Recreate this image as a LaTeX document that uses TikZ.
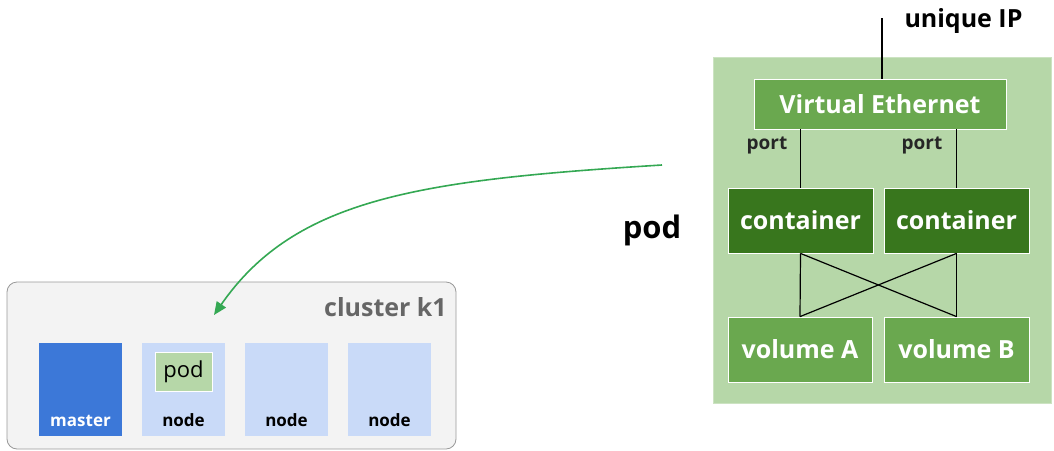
\documentclass[tikz,border=0pt]{standalone}
\usepackage{fontspec}
\setmainfont{Open Sans}
\usetikzlibrary{arrows, arrows.meta, calc, positioning}
\definecolor{podbg}{HTML}{B6D7A8}
\definecolor{midgreen}{HTML}{6AA84F}
\definecolor{darkgreen}{HTML}{38761D}
\definecolor{masterblue}{HTML}{3C78D8}
\definecolor{nodeblue}{HTML}{C9DAF8}
\definecolor{clusterbg}{HTML}{F3F3F3}
\definecolor{clusterline}{HTML}{999999}
\definecolor{clustertext}{HTML}{666666}
\definecolor{arrowgreen}{HTML}{34A853}
\newcommand{\drawl}{\draw[line width=1.2pt]}
\newcommand{\bigf}[1]{\fontsize{25}{25}\selectfont\bfseries #1}
\newcommand{\bbigf}[1]{\fontsize{31}{31}\selectfont\bfseries #1}
\newcommand{\midf}[1]{\fontsize{19}{19}\selectfont\bfseries #1}
\newcommand{\smallf}[1]{\fontsize{17}{17}\selectfont\bfseries #1}

\begin{document}
\begin{tikzpicture}[x=1pt, y=-1pt, >={Triangle[length=13pt, width=11pt]},
  gbox/.style={rectangle, draw=white, line width=0.8pt, inner sep=0pt, text=white},
  nbox/.style={rectangle, inner sep=0pt, minimum width=83, minimum height=93}]
\useasboundingbox (0,0) rectangle (1054,450);

%Cluster k1
\node[rectangle, rounded corners=10pt, draw=clusterline, fill=clusterbg, line width=0.8pt,
  minimum width=449, minimum height=167] (k1) at (231.5,365.5) {};
\node[anchor=east, text=clustertext, inner sep=0pt] (k1name) at (447,307) {\bigf{cluster k1}};
\node[nbox, fill=masterblue] (master) at (80.5,389.5) {};	%master
\node[nbox, fill=nodeblue] (n1) at (183.5,389.5) {};
\node[nbox, fill=nodeblue] (n2) at (286.5,389.5) {};
\node[nbox, fill=nodeblue] (n3) at (389.5,389.5) {};
\node[above=6pt, text=white] (masterl) at (master.south) {\smallf{master}};
\node[above=6pt] (n1l) at (n1.south) {\smallf{node}};
\node[above=6pt] (n2l) at (n2.south) {\smallf{node}};
\node[above=6pt] (n3l) at (n3.south) {\smallf{node}};
\node[gbox, fill=podbg, text=black, minimum width=57, minimum height=39] (minipod) at (183.5,371.5)
  {\fontsize{22}{22}\selectfont pod};	%pod in node

%Pod
\node[rectangle, fill=podbg, draw=podbg!70!white, line width=0.8pt,
  minimum width=338, minimum height=346] (pod) at (882,230.5) {};
\node (podl) at (652,230) {\bbigf{pod}};
\node[gbox, fill=midgreen, minimum width=252, minimum height=50] (ve) at (880,104) {\bigf{Virtual Ethernet}};
\node[gbox, fill=darkgreen, minimum width=145, minimum height=65] (c1) at (800.5,220.5) {\bigf{container}};
\node[gbox, fill=darkgreen, minimum width=145, minimum height=65] (c2) at (956.5,220.5) {\bigf{container}};
\node[gbox, fill=midgreen, minimum width=144, minimum height=65] (va) at (800,349.5) {\bigf{volume A}};
\node[gbox, fill=midgreen, minimum width=145, minimum height=65] (vb) at (956.5,349.5) {\bigf{volume B}};

%Unique IP
\coordinate (iptop) at (882,18);
\node (ipl) at (963.5,21) {\bigf{unique IP}};
\drawl (iptop) -- (iptop |- ve.north);

%Ports
\drawl (c1.north) -- (c1.north |- ve.south);
\drawl (c2.north) -- (c2.north |- ve.south);
\node[text=black!85] (p1) at (767,145) {\midf{port}};
\node[text=black!85] (p2) at (922,145) {\midf{port}};

%Containers - volumes
\drawl (c1.south) -- (va.north);
\drawl (c2.south) -- (vb.north);
\drawl (c1.south) -- (vb.north);
\drawl (c2.south) -- (va.north);

%Arrow to node
\coordinate (arrs) at (662,165);
\coordinate (arre) at (214,315);
\draw[->, arrowgreen, line width=1.6pt] (arrs) .. controls (420,180) and (295,198) .. (arre);
\end{tikzpicture}
\end{document}
